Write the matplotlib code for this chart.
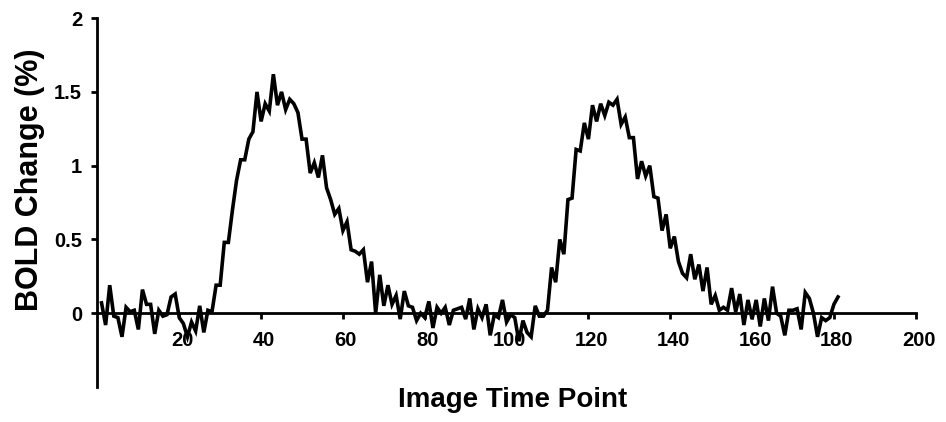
import matplotlib
matplotlib.use("Agg")
import matplotlib.pyplot as plt
import matplotlib.transforms as mtransforms

time_points = list(range(1, 182))
bold_change = [
    0.07, -0.08, 0.19, -0.02, -0.03, -0.16, 0.04, 0.01, 0.02, -0.11,
    0.16, 0.06, 0.06, -0.14, 0.02, -0.02, -0.01, 0.11, 0.13, -0.03,
    -0.07, -0.16, -0.06, -0.12, 0.05, -0.13, 0.02, 0.01, 0.19, 0.19,
    0.48, 0.48, 0.70, 0.90, 1.04, 1.04, 1.18, 1.23, 1.50, 1.30,
    1.42, 1.37, 1.62, 1.41, 1.50, 1.38, 1.45, 1.42, 1.36, 1.18,
    1.18, 0.95, 1.02, 0.92, 1.07, 0.85, 0.77, 0.67, 0.71, 0.56,
    0.62, 0.43, 0.42, 0.40, 0.43, 0.21, 0.35, 0.00, 0.26, 0.05,
    0.19, 0.06, 0.12, -0.04, 0.15, 0.05, 0.04, -0.05, 0.00, -0.03,
    0.08, -0.10, 0.04, 0.00, 0.04, -0.08, 0.02, 0.03, 0.04, -0.04,
    0.10, -0.11, 0.03, -0.03, 0.06, -0.15, -0.01, -0.03, 0.09, -0.06,
    -0.01, -0.03, -0.19, -0.05, -0.13, -0.16, 0.05, -0.02, -0.02, 0.02,
    0.31, 0.21, 0.50, 0.40, 0.77, 0.78, 1.11, 1.10, 1.29, 1.18,
    1.41, 1.30, 1.42, 1.34, 1.43, 1.41, 1.45, 1.28, 1.33, 1.19,
    1.19, 0.91, 1.03, 0.93, 1.00, 0.79, 0.78, 0.56, 0.67, 0.44,
    0.52, 0.35, 0.27, 0.24, 0.40, 0.23, 0.33, 0.15, 0.31, 0.06,
    0.12, 0.02, 0.04, 0.02, 0.17, 0.01, 0.13, -0.08, 0.09, -0.04,
    0.09, -0.09, 0.10, -0.05, 0.18, 0.00, -0.02, -0.15, 0.02, 0.02,
    0.03, -0.11, 0.14, 0.10, 0.00, -0.16, -0.03, -0.05, -0.03, 0.06,
    0.11,
]
x_ticks = [20, 40, 60, 80, 100, 120, 140, 160, 180, 200]
y_ticks = [0, 0.5, 1, 1.5, 2]
y_tick_labels = ["0", "0.5", "1", "1.5", "2"]

plt.rcParams['font.family'] = ['Liberation Sans', 'DejaVu Sans']

fig = plt.figure(figsize=(9.46, 4.22), dpi=100)
ax = fig.add_axes([0.103, 0.083, 0.865, 0.874])

ax.plot(time_points, bold_change, color='black', linewidth=2.6,
        solid_joinstyle='miter')

ax.set_xlim(0, 200)
ax.set_ylim(-0.5, 2)

ax.spines['top'].set_visible(False)
ax.spines['right'].set_visible(False)
ax.spines['bottom'].set_position(('data', 0))
ax.spines['bottom'].set_linewidth(2)
ax.spines['left'].set_linewidth(2)

ax.set_xticks(x_ticks)
ax.set_xticklabels([str(v) for v in x_ticks], fontsize=14.5, fontweight='bold')
ax.set_yticks(y_ticks)
ax.set_yticklabels(y_tick_labels, fontsize=14.5, fontweight='bold')
ax.tick_params(axis='x', direction='out', length=4, width=2, pad=9)
ax.tick_params(axis='y', direction='out', length=4, width=2, pad=7)

offset = mtransforms.ScaledTranslation(3 / 100, 0, fig.dpi_scale_trans)
for lbl in ax.get_xticklabels():
    lbl.set_transform(lbl.get_transform() + offset)

fig.text(0.032, 0.575, "BOLD Change (%)", rotation=90, fontsize=22,
         fontweight='bold', ha='center', va='center')
fig.text(0.542, 0.052, "Image Time Point", fontsize=20,
         fontweight='bold', ha='center', va='center')

fig.savefig("out.png", dpi=100, facecolor='white')
